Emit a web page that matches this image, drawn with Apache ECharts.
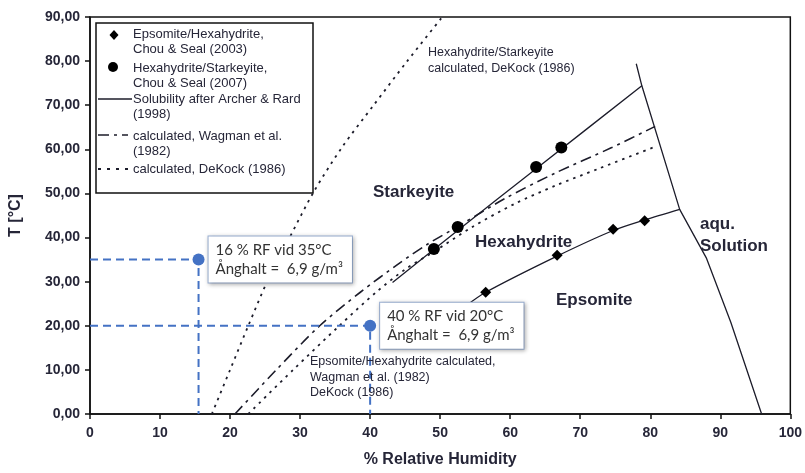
<!DOCTYPE html>
<html>
<head>
<meta charset="utf-8">
<script src="https://cdn.jsdelivr.net/npm/echarts@6/dist/echarts.min.js"></script>
<style>
  html, body { margin: 0; padding: 0; background: #fff; }
  #chart { width: 805px; height: 473px; }
</style>
</head>
<body>
<div id="chart"></div>
<script>
// Axis ticks
const rhTicks = [0, 10, 20, 30, 40, 50, 60, 70, 80, 90, 100];
const tempTicks = [0, 10, 20, 30, 40, 50, 60, 70, 80, 90];

// Measured transition points [RH %, T °C]
const epsomiteHexahydriteChouSeal2003 = [[56.5, 27.6], [66.7, 36.0], [74.7, 41.9], [79.2, 43.8]];
const hexahydriteStarkeyiteChouSeal2007 = [[49.1, 37.4], [52.5, 42.4], [63.7, 56.0], [67.3, 60.4]];

// Solubility / phase boundaries after Archer & Rard (1998)
const hexStarkArcherRard = [[43.2, 29.8], [52.5, 41.6], [63.7, 55.6], [78.8, 74.4]];
const epsHexArcherRard = [[53.5, 24.3], [56.5, 27.6], [66.7, 35.8], [74.7, 41.6], [79.2, 44.0], [84.2, 46.4]];
const aqueousBoundary = [[78.0, 79.4], [78.8, 74.4], [84.2, 46.4], [88.0, 35.4], [91.5, 20.8], [95.9, 0]];

// Calculated curves
const epsHexWagman = [[20.7, 0], [26.6, 10], [32.8, 20], [38.6, 27.6], [44.2, 34.2], [48.3, 38.6], [52.4, 42.4],
  [59.2, 48.8], [66.4, 54.6], [74.5, 60.4], [80.7, 65.2]];
const epsHexDeKock = [[22.6, 0], [29.0, 10], [35.6, 20], [41.0, 27.8], [45.1, 32.9], [48.9, 36.6], [54.5, 42.3],
  [60.7, 47.7], [66.5, 51.8], [72.6, 55.6], [80.7, 60.6]];
const hexStarkDeKock = [[17.4, 0], [20.0, 10], [22.6, 20], [25.3, 30], [28.5, 40], [32.0, 50.5], [36.0, 60.5],
  [40.5, 70], [45.3, 80], [50.3, 90]];

// Indoor climate examples (same vapour content)
const climatePoints = [[15.5, 35], [40, 20]];
const climateRfText = ['16 % RF vid 35°C', '40 % RF vid 20°C'];
const vapourContentText = 'Ånghalt =  6,9 g/m³';

const legendEntries = [
  ['Epsomite/Hexahydrite,', 'Chou & Seal (2003)'],
  ['Hexahydrite/Starkeyite,', 'Chou & Seal (2007)'],
  ['Solubility after Archer & Rard', '(1998)'],
  ['calculated, Wagman et al.', '(1982)'],
  ['calculated, DeKock (1986)']
];

const INK = '#1c1c2a';
const TEXT = '#262638';
const BLUE = '#4472C4';
const AXIS_FONT = 'Liberation Sans, Arial, sans-serif';

const chart = echarts.init(document.getElementById('chart'), null, { renderer: 'canvas' });

const dashDot = [11, 5, 3, 5];
const dotted = [2.5, 5];

function curve(name, data, type, width, smooth) {
  return {
    name, type: 'line', data, smooth: smooth, showSymbol: false, symbol: 'none',
    lineStyle: { color: INK, width: width, type: type },
    silent: true, z: 3, animation: false
  };
}

const guideLines = climatePoints.map((p, i) => ({
  name: 'guide' + i, type: 'line', data: [[0, p[1]], p, [p[0], 0]],
  showSymbol: false, symbol: 'none', smooth: false,
  lineStyle: { color: BLUE, width: 2, type: [8, 5] }, z: 4, animation: false, silent: true
}));

const option = {
  animation: false,
  backgroundColor: '#fff',
  grid: { left: 89, right: 12, top: 17, bottom: 58, show: true, borderColor: '#111', borderWidth: 1.5, backgroundColor: 'transparent' },
  xAxis: {
    type: 'value', min: rhTicks[0], max: rhTicks[rhTicks.length - 1], interval: 10,
    name: '% Relative Humidity', nameLocation: 'middle', nameGap: 38,
    nameTextStyle: { fontFamily: AXIS_FONT, fontWeight: 'bold', fontSize: 16, color: TEXT },
    axisLine: { show: true, lineStyle: { color: '#111', width: 1.5 } },
    axisTick: { show: true, inside: false, length: 5, lineStyle: { color: '#111', width: 1.5 } },
    splitLine: { show: false },
    axisLabel: { fontFamily: AXIS_FONT, fontWeight: 'bold', fontSize: 14, color: TEXT, margin: 12 }
  },
  yAxis: {
    type: 'value', min: tempTicks[0], max: tempTicks[tempTicks.length - 1], interval: 10,
    name: 'T [°C]', nameLocation: 'middle', nameGap: 66, nameRotate: 90,
    nameTextStyle: { fontFamily: AXIS_FONT, fontWeight: 'bold', fontSize: 16, color: TEXT },
    axisLine: { show: true, lineStyle: { color: '#111', width: 1.5 } },
    axisTick: { show: true, inside: false, length: 5, lineStyle: { color: '#111', width: 1.5 } },
    splitLine: { show: false },
    axisLabel: {
      fontFamily: AXIS_FONT, fontWeight: 'bold', fontSize: 14, color: TEXT, margin: 10,
      formatter: v => v.toFixed(2).replace('.', ',')
    }
  },
  series: [
    curve('Hexahydrite/Starkeyite calculated, DeKock (1986)', hexStarkDeKock, dotted, 1.8, 0.3),
    curve('Epsomite/Hexahydrite calculated, Wagman et al. (1982)', epsHexWagman, dashDot, 1.6, 0.3),
    curve('Epsomite/Hexahydrite calculated, DeKock (1986)', epsHexDeKock, dotted, 1.8, 0.3),
    curve('Hexahydrite/Starkeyite, Archer & Rard (1998)', hexStarkArcherRard, 'solid', 1.3, 0.2),
    curve('Epsomite/Hexahydrite, Archer & Rard (1998)', epsHexArcherRard, 'solid', 1.3, 0.3),
    curve('Solubility, Archer & Rard (1998)', aqueousBoundary, 'solid', 1.3, false),
    {
      name: 'Epsomite/Hexahydrite, Chou & Seal (2003)', type: 'scatter', data: epsomiteHexahydriteChouSeal2003,
      symbol: 'diamond', symbolSize: 11, itemStyle: { color: '#000', opacity: 1 }, z: 5, animation: false
    },
    {
      name: 'Hexahydrite/Starkeyite, Chou & Seal (2007)', type: 'scatter', data: hexahydriteStarkeyiteChouSeal2007,
      symbol: 'circle', symbolSize: 12, itemStyle: { color: '#000', opacity: 1 }, z: 5, animation: false
    },
    ...guideLines,
    {
      name: 'Klimat', type: 'scatter', z: 10, animation: false,
      symbol: 'circle', symbolSize: 12, itemStyle: { color: BLUE, opacity: 1 },
      data: climatePoints.map((p, i) => ({
        value: p,
        label: {
          show: true, position: 'right', distance: 4,
          formatter: climateRfText[i] + '\n' + vapourContentText,
          fontFamily: 'Lato, "Open Sans", sans-serif', fontSize: 15, lineHeight: 19, color: '#333333',
          backgroundColor: '#fff', borderColor: '#9cb2d6', borderWidth: 1,
          padding: [4, 9, 4, 7], opacity: 1,
          shadowBlur: 4, shadowColor: 'rgba(0,0,0,0.25)', shadowOffsetX: 1, shadowOffsetY: 1
        }
      }))
    }
  ]
};

// Legend box, phase names and curve notes
const legendFont = '13px ' + AXIS_FONT;
const legendX = 96, legendY = 23;
const rowTops = [27, 61, 92, 129, 162];
const graphics = [
  { type: 'rect', shape: { x: legendX, y: legendY, width: 217, height: 170 }, style: { fill: '#fff', stroke: '#111', lineWidth: 1.5 }, z: 20 },
  { type: 'polygon', shape: { points: [[114, 30], [118.5, 35], [114, 40], [109.5, 35]] }, style: { fill: '#000' }, z: 21 },
  { type: 'circle', shape: { cx: 113, cy: 67, r: 5 }, style: { fill: '#000' }, z: 21 },
  { type: 'line', shape: { x1: 98, y1: 99, x2: 132, y2: 99 }, style: { stroke: INK, lineWidth: 1.3 }, z: 21 },
  { type: 'line', shape: { x1: 98, y1: 135, x2: 128, y2: 135 }, style: { stroke: INK, lineWidth: 1.6, lineDash: dashDot }, z: 21 },
  { type: 'line', shape: { x1: 98, y1: 169, x2: 130, y2: 169 }, style: { stroke: INK, lineWidth: 2, lineDash: [3, 6] }, z: 21 }
];
legendEntries.forEach((lines, i) => {
  graphics.push({
    type: 'text', left: 133, top: rowTops[i], z: 21,
    style: { text: lines.join('\n'), font: legendFont, fill: TEXT, lineHeight: 15 }
  });
});

const phaseLabels = [
  ['Starkeyite', 373, 181], ['Hexahydrite', 475, 231], ['Epsomite', 556, 289], ['aqu.\nSolution', 700, 213]
];
phaseLabels.forEach(([t, x, y]) => {
  graphics.push({
    type: 'text', left: x, top: y, z: 15,
    style: { text: t, font: 'bold 17px ' + AXIS_FONT, fill: TEXT, lineHeight: 22 }
  });
});

const curveNotes = [
  ['Hexahydrite/Starkeyite\ncalculated, DeKock (1986)', 428, 45],
  ['Epsomite/Hexahydrite calculated,\nWagman et al. (1982)\nDeKock (1986)', 310, 354]
];
curveNotes.forEach(([t, x, y]) => {
  graphics.push({
    type: 'text', left: x, top: y, z: 15,
    style: { text: t, font: '12.5px ' + AXIS_FONT, fill: TEXT, lineHeight: 15.5 }
  });
});

option.graphic = { elements: graphics };
chart.setOption(option);
</script>
</body>
</html>
